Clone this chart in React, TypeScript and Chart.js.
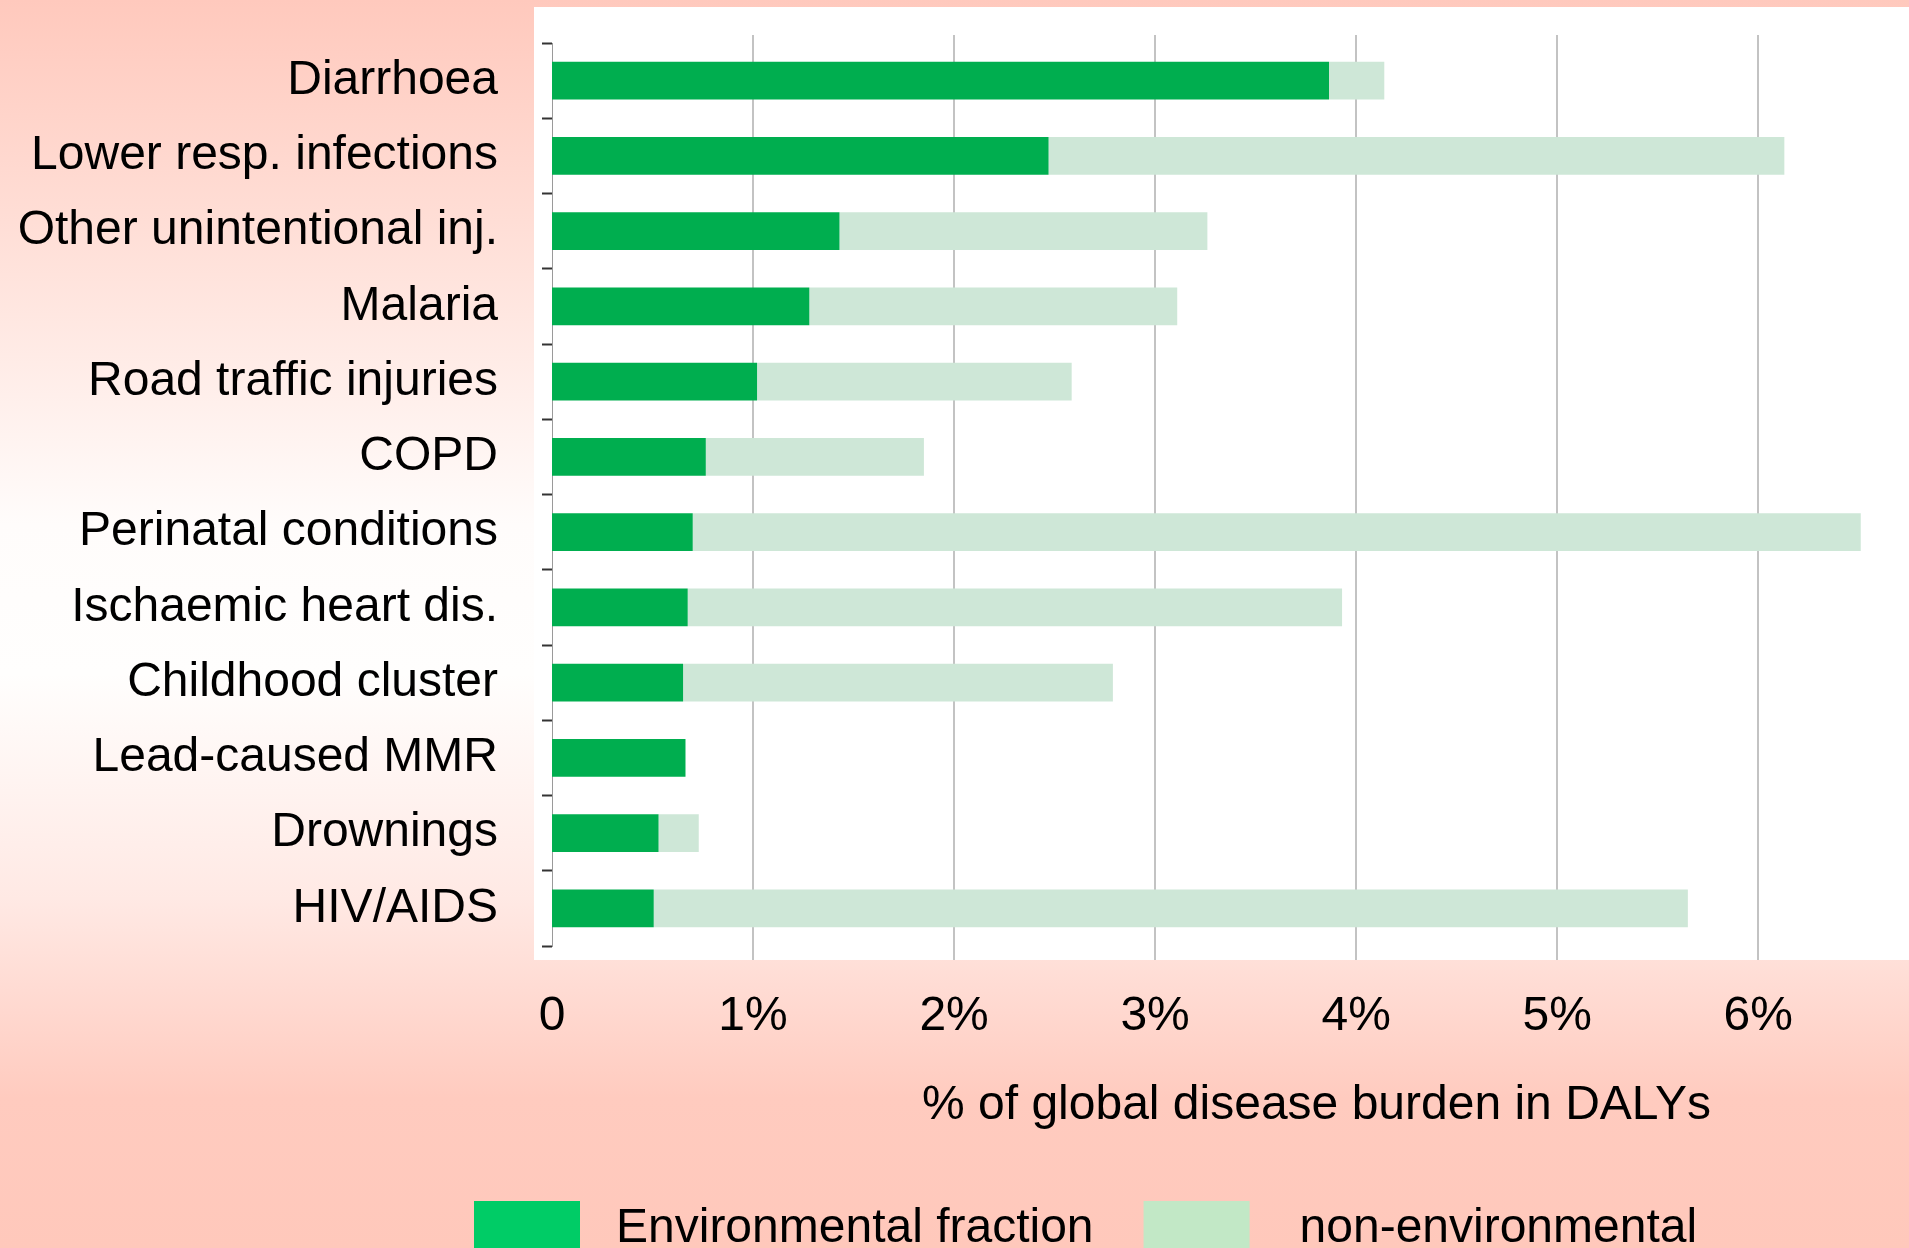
import { useEffect, useRef } from "react";
import { Chart, registerables } from "chart.js";

Chart.register(...registerables);

const categories = [
  "Diarrhoea",
  "Lower resp. infections",
  "Other unintentional inj.",
  "Malaria",
  "Road traffic injuries",
  "COPD",
  "Perinatal conditions",
  "Ischaemic heart dis.",
  "Childhood cluster",
  "Lead-caused MMR",
  "Drownings",
  "HIV/AIDS",
];

// % of global disease burden (DALYs)
const environmental = [3.865, 2.47, 1.43, 1.28, 1.02, 0.765, 0.7, 0.675, 0.652, 0.664, 0.53, 0.506];
const nonEnvironmental = [0.275, 3.66, 1.83, 1.83, 1.565, 1.085, 5.81, 3.255, 2.138, 0, 0.2, 5.144];

const xTickLabels = ["0", "1%", "2%", "3%", "4%", "5%", "6%"];
const seriesNames = ["Environmental fraction", "non-environmental"];
const axisTitle = "% of global disease burden in DALYs";

const FONT = '"Liberation Sans", Arial, Helvetica, sans-serif';
const barColors = ["#00AE4F", "#CEE7D7"];
const legendColors = ["#00CC66", "#C2E8C6"];

export default function App() {
  const ref = useRef<HTMLCanvasElement>(null);

  useEffect(() => {
    const canvas = ref.current;
    if (!canvas) return;

    const plotBg = {
      id: "plotBg",
      beforeDraw(chart: any) {
        const { ctx, chartArea: a, scales } = chart;
        const x = scales.x;
        ctx.save();
        ctx.fillStyle = "#ffffff";
        ctx.fillRect(a.left - 18, a.top - 36, a.right - a.left + 18, a.bottom - a.top + 50);
        ctx.strokeStyle = "#c3c3c3";
        ctx.lineWidth = 2;
        x.ticks.forEach((t: any) => {
          if (t.value === 0) return;
          const px = Math.round(x.getPixelForValue(t.value));
          ctx.beginPath();
          ctx.moveTo(px, a.top - 8);
          ctx.lineTo(px, a.bottom + 14);
          ctx.stroke();
        });
        ctx.restore();
      },
    };

    const overlay = {
      id: "overlay",
      afterDraw(chart: any) {
        const { ctx, chartArea: a } = chart;
        ctx.save();
        ctx.fillStyle = "#000";
        ctx.font = `48px ${FONT}`;
        ctx.textBaseline = "alphabetic";
        ctx.textAlign = "center";
        ctx.fillText(axisTitle, (a.left + a.right) / 2 + 86, a.bottom + 173);

        // legend
        ctx.textAlign = "left";
        const boxW = 106;
        const gaps = [36, 50];
        let lx = 474;
        const ly = a.bottom + 255;
        chart.data.datasets.forEach((ds: any, i: number) => {
          ctx.fillStyle = legendColors[i];
          ctx.fillRect(lx, ly, boxW, 60);
          ctx.fillStyle = "#000";
          const tx = lx + boxW + gaps[i];
          ctx.fillText(ds.label, tx, ly + 41);
          lx = tx + ctx.measureText(ds.label).width + 50;
        });
        ctx.restore();
      },
    };

    const chart = new Chart(canvas, {
      type: "bar",
      data: {
        labels: categories,
        datasets: [
          {
            label: seriesNames[0],
            data: environmental,
            backgroundColor: barColors[0],
            borderWidth: 0,
          },
          {
            label: seriesNames[1],
            data: nonEnvironmental,
            backgroundColor: barColors[1],
            borderWidth: 0,
          },
        ],
      },
      options: {
        indexAxis: "y",
        responsive: false,
        animation: false,
        layout: { padding: { top: 43, left: 0, right: 0, bottom: 0 } },
        datasets: { bar: { categoryPercentage: 1, barPercentage: 0.5 } },
        plugins: {
          legend: { display: false },
          tooltip: { enabled: false },
        },
        scales: {
          x: {
            type: "linear",
            stacked: true,
            min: 0,
            max: 6.75,
            grid: { display: false },
            border: { display: false },
            ticks: {
              stepSize: 1,
              includeBounds: false,
              padding: 34,
              color: "#000",
              font: { family: FONT, size: 48 },
              maxRotation: 0,
              callback: (v: any) => xTickLabels[Math.round(Number(v))] ?? "",
            },
            afterFit: (s: any) => {
              s.height = 302;
              s.paddingLeft = 0;
              s.paddingRight = 0;
            },
          },
          y: {
            type: "category",
            stacked: true,
            offset: true,
            grid: {
              offset: true,
              drawOnChartArea: false,
              drawTicks: true,
              tickLength: 10,
              tickWidth: 2,
              tickColor: "#333",
            },
            border: { display: true, color: "#9a9a9a", width: 1, dash: [6, 8] },
            ticks: {
              padding: 44,
              color: "#000",
              font: { family: FONT, size: 48 },
              autoSkip: false,
            },
            afterFit: (s: any) => {
              s.width = 552;
              s.paddingTop = 0;
              s.paddingBottom = 0;
            },
          },
        },
      } as any,
      plugins: [plotBg, overlay],
    });

    return () => chart.destroy();
  }, []);

  return (
    <div
      style={{
        position: "fixed",
        left: 0,
        top: 0,
        width: 1909,
        height: 1248,
        overflow: "hidden",
        background:
          "linear-gradient(to bottom, #ffc9bd 0%, #ffe3dc 22%, #fffcfb 42%, #fffefd 54%, #ffe9e4 72%, #ffcbbf 88%, #ffc8bb 100%)",
      }}
    >
      <canvas
        ref={ref}
        width={1909}
        height={1248}
        style={{ display: "block", position: "absolute", left: 0, top: 0, width: 1909, height: 1248 }}
      />
    </div>
  );
}
